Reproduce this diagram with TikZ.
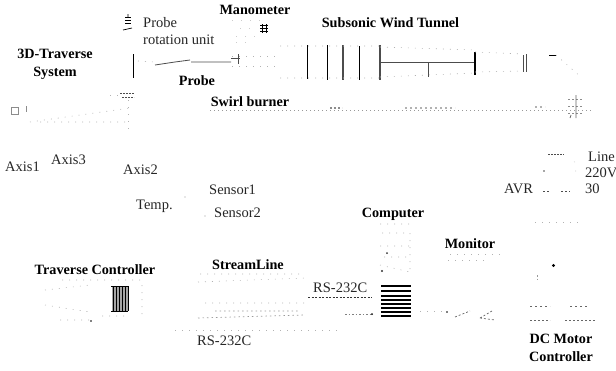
\documentclass[tikz,border=0pt]{standalone}
\usepackage{fontspec}
\setmainfont{Liberation Serif}
\tikzset{
  lab/.style={inner sep=0pt,font=\fontsize{14.5}{15}\selectfont,text=black!85},
  blab/.style={inner sep=0pt,align=center,font=\fontsize{14.2}{18}\selectfont\bfseries},
  faint/.style={black!30,line width=.6pt,dash pattern=on 1pt off 6pt},
  fainter/.style={black!20,line width=.6pt,dash pattern=on 1pt off 8pt},
  mid/.style={black!55,line width=.7pt,dash pattern=on 1.5pt off 3pt},
  solidk/.style={black,line width=1pt},
  solidg/.style={black!70,line width=.8pt},
  rule/.style={black,line width=1.3pt}
}
\begin{document}
\begin{tikzpicture}[x=1pt,y=-1pt]
\useasboundingbox (0,0) rectangle (616,370);
% --- labels
\node[lab,anchor=west] (probe1) at (143,23) {Probe};
\node[lab,anchor=west] (probe2) at (143,40) {rotation unit};
\node[blab] (mano) at (255,10) {Manometer};
\node[blab] (tunnel) at (390.5,23) {Subsonic Wind Tunnel};
\node[blab] (trav) at (55,64) {3D-Traverse\\System};
\node[blab] (probe) at (197,81) {Probe};
\node[blab] (swirl) at (250,102) {Swirl burner};
\node[lab,anchor=west] (ax1) at (5,167) {Axis1};
\node[lab,anchor=west] (ax3) at (51,160) {Axis3};
\node[lab,anchor=west] (ax2) at (123,170) {Axis2};
\node[lab,anchor=west] (s1) at (209,190) {Sensor1};
\node[lab,anchor=west] (s2) at (214,213) {Sensor2};
\node[lab,anchor=west] (temp) at (136,206) {Temp.};
\node[lab,anchor=west] (line) at (588,157) {Line};
\node[lab,anchor=west] (v220) at (585,173) {220V};
\node[lab,anchor=west] (avr) at (504,189) {AVR};
\node[lab,anchor=west] (p30) at (585,189) {30};
\node[blab] (comp) at (393,214) {Computer};
\node[blab] (mon) at (470,244) {Monitor};
\node[blab] (tc) at (95,270) {Traverse Controller};
\node[blab] (sl) at (248,265) {StreamLine};
\node[lab,anchor=west] (rs1) at (313,288) {RS-232C};
\node[lab,anchor=west] (rs2) at (197,341) {RS-232C};
\node[blab] (dc) at (561,348) {DC Motor\\Controller};
% --- probe rotation unit and probe
\draw[black,line width=.9pt] (125,17)--(131,17) (125,20)--(131,20) (125,23)--(131,23);
\draw[black,line width=.7pt] (128,14)--(128,17) (123,30)--(132,28);
\draw[solidk] (133,54)--(133,78);
\draw[solidg] (155,65)--(175,62)--(190,60) (191,62)--(231,62);
\draw[faint] (138,61)--(155,62);
% manometer
\draw[black,line width=.9pt] (260,25)--(268,25) (260,28)--(268,28) (260,31)--(268,31) (262,24)--(262,33) (266,24)--(266,33);
\draw[fainter] (232,20)--(262,20) (240,28)--(258,28) (236,36)--(256,36) (236,42)--(250,42);
\draw[faint] (232,56)--(280,56) (232,66)--(280,66);
\draw[solidg] (231,58)--(240,58) (238,54)--(238,64);
% tunnel
\draw[solidk] (307,45)--(307,79) (327,45)--(327,80) (359,46)--(359,80);
\draw[solidg,line width=1.1pt] (343,45)--(343,80) (380,45)--(380,80);
\draw[solidg] (380,62)--(475,62) (428,62)--(428,77);
\draw[solidk,line width=1.2pt] (475,52)--(475,75);
\draw[solidg] (523,55)--(523,72) (526,54)--(526,72);
\draw[solidk] (549,55)--(556,55);
\draw[faint] (280,46)--(380,46) (380,47)--(475,50) (475,52)--(523,54) (556,55)--(582,78);
\draw[faint] (280,78)--(380,78) (380,77)--(475,73) (475,72)--(523,71);
% swirl burner
\draw[fainter,dash pattern=on 1pt off 3pt,black!40] (210,110)--(592,110);
\draw[black!45,line width=.7pt,dash pattern=on 2pt off 2pt] (568,99)--(582,99) (568,106)--(582,106) (568,113)--(582,113);
\draw[black!60,line width=.8pt] (576,95)--(576,118) (570,118)--(571,115);
\draw[black!30,line width=1.5pt,dash pattern=on 2pt off 3pt] (405,108)--(455,108) (535,107)--(545,107);
\draw[black!45,line width=1.5pt,dash pattern=on 2pt off 2pt] (330,108)--(342,108);
% traverse
\draw[black!45,line width=.6pt] (11,107) rectangle (18,114) (26,106)--(26,112);
\draw[faint] (30,122)--(130,108) (40,122)--(130,122);
\draw[black!70,line width=.8pt,dash pattern=on 2pt off 1pt] (120,93)--(134,93) (122,97)--(134,97);
\draw[faint] (110,95)--(120,95) (128,100)--(128,130);
% power / avr
\draw[black!70,line width=.8pt,dash pattern=on 1.5pt off 1.5pt] (548,154)--(564,154);
\draw[black!70,line width=.8pt,dash pattern=on 2pt off 2pt] (543,191)--(550,191) (561,191)--(570,191);
\fill[black!70] (544,171) circle (.8pt);
\draw[fainter] (574,162)--(582,160) (575,171)--(578,171);
% temp & sensors
\fill[black!40] (185,197) circle (.6pt) (205,216) circle (.6pt);
% traverse controller
\fill[black!35] (112,286) rectangle (128,311);
\foreach \xx in {113,116,119,122,125,128}{\draw[black,line width=.7pt] (\xx,286)--(\xx,311);}
\draw[black,line width=.6pt] (111,286)--(128,286) (111,311)--(128,311);
\draw[faint] (62,280)--(145,280) (45,290)--(90,285) (45,305)--(90,312) (60,320)--(92,320) (102,316)--(130,316) (142,285)--(142,315);
\fill[black] (91,321) circle (.8pt);
% streamline
\draw[faint] (200,274)--(305,274) (198,282)--(305,278) (205,303)--(305,303);
\draw[mid,black!40] (198,318)--(305,315) (215,311)--(300,311);
\draw[faint] (175,330)--(305,330);
% RS-232C line, computer
\draw[black!80,line width=.9pt,dash pattern=on 2pt off 1.5pt] (308,297)--(372,297);
\foreach \yy in {286,291,296,300,304,308,312,316}{\draw[black,line width=1.1pt] (381,\yy)--(411,\yy);}
\draw[faint] (380,224)--(411,224) (382,233)--(410,233) (380,246)--(410,246) (384,257)--(410,257) (410,233)--(410,275) (380,265)--(410,272);
\fill[black!80] (382,271) circle (1.2pt);
\fill[black!80] (387,253) circle (1pt);
\draw[black!50,dash pattern=on 1.5pt off 2pt] (345,314)--(370,314);
\fill[black] (372,314) circle (1pt);
\draw[faint] (308,330)--(340,330) (420,311)--(445,311);
% monitor
\draw[faint] (450,254)--(505,254) (448,260)--(485,260);
\draw[black!60,line width=.7pt,dash pattern=on 2pt off 2pt] (455,317)--(470,311) (480,318)--(492,311) (480,318)--(495,320);
\fill[black] (447,312) circle (.8pt);
% DC controller
\fill[black] (553.5,265.5) circle (1.6pt);
\draw[faint] (535,222)--(580,222);
\draw[black!60,line width=.7pt,dash pattern=on 2pt off 3pt] (530,306)--(550,306) (570,306)--(588,306);
\draw[black!60,line width=.7pt,dash pattern=on 2pt off 2pt] (530,320)--(550,320) (565,320)--(595,320);
\draw[black!40,line width=.7pt,dash pattern=on 1.5pt off 2pt] (537,275)--(537,280);
\end{tikzpicture}
\end{document}
